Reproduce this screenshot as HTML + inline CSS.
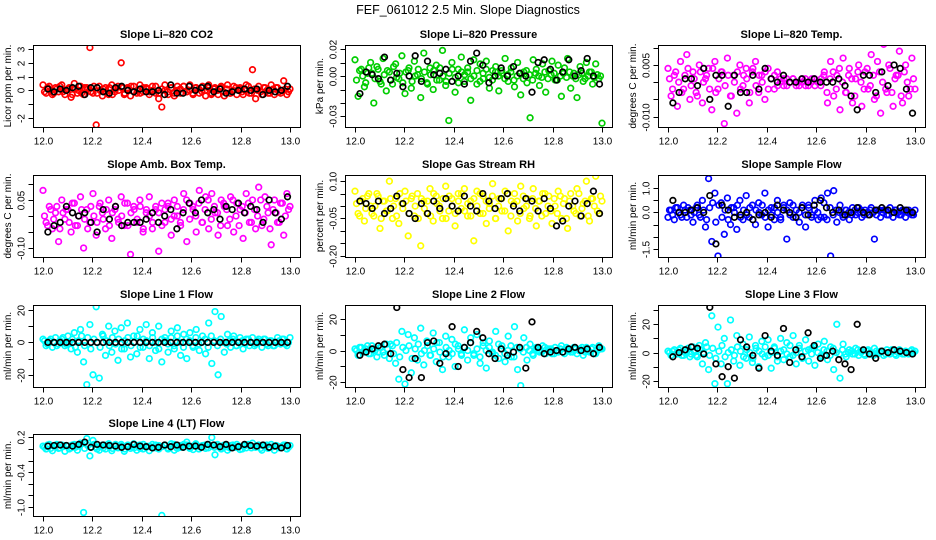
<!DOCTYPE html>
<html><head><meta charset="utf-8"><title>FEF_061012 2.5 Min. Slope Diagnostics</title>
<style>
html,body{margin:0;padding:0;background:#fff;}
svg{display:block;font-family:"Liberation Sans",Arial,sans-serif;}
</style></head>
<body>
<svg id="chart" width="936" height="540" viewBox="0 0 936 540" xmlns="http://www.w3.org/2000/svg">
<rect x="0" y="0" width="936" height="540" fill="#fff"/>
<text x="468" y="14" text-anchor="middle" font-size="12.5" fill="#000">FEF_061012  2.5 Min. Slope Diagnostics</text>
</svg>
<script>
// x-axis tick values (hours)
const xTicks = [12.0, 12.2, 12.4, 12.6, 12.8, 13.0];
const xTickLabels = ["12.0", "12.2", "12.4", "12.6", "12.8", "13.0"];

// Panel 1: CO2
const co2Vals = [0.4,-0.2,0.3,-0.3,0.2,-0.1,0.4,-0.3,0.1,-0.5,0.5,-0.2,0.3,-0.3,0.2,3.1,-0.2,-2.5,0.3,-0.4,0.2,-0.3,0.4,-0.1,0.3,2.0,-0.3,0.2,-0.4,0.3,-0.2,0.4,-0.1,0.2,-0.3,0.3,-0.2,-0.6,-1.2,0.4,-0.3,0.2,-0.4,0.3,-0.2,0.3,-0.1,0.4,-0.3,0.2,-0.2,0.3,-0.4,0.4,-0.2,0.2,-0.3,0.3,-0.4,0.4,-0.2,0.3,-0.3,0.2,-0.3,0.4,-0.2,1.5,-0.6,0.3,-0.3,0.2,-0.2,0.4,-0.3,0.2,-0.2,0.7,-0.3,0.1];
const co2Core = [-0.1,0.2,0.0,-0.2,0.1,0.3,-0.1,0.0,0.2,-0.3,0.1,0.0,-0.2,0.2,0.1,-0.1,0.3,-0.2,0.0,0.1,-0.1,0.2,-0.3,0.1,0.0,0.2,-0.2,0.1,0.3,-0.1,0.0,-0.2,0.2,0.1,-0.1,0.0,0.3,-0.2,0.1,0.0,-0.1,0.2,-0.2,0.0,0.1,0.3,-0.1,0.0,-0.2,0.2,0.1,-0.1,0.0,0.2,-0.3,0.1,0.0,0.2,-0.1,0.1,-0.2,0.0,0.2,0.1,-0.1,0.0,0.3,-0.2,0.1,0.0,-0.1,0.2,0.0,-0.2,0.1,0.2,-0.1,0.0,0.1,-0.1];
const co2Avg = [0.1,-0.1,0.1,0,0.2,0.3,-0.3,0.2,0.2,-0.1,-0.2,0.2,0.3,0,-0.1,0.1,-0.1,-0.1,0,-0.3,0.4,-0.2,-0.2,0.3,0,0.2,0.3,-0.1,0.1,-0.2,-0.1,0,0.1,0,0.1,-0.3,0,-0.1,0,0.3];
// Panel 2: Pressure
const presVals = [0.012,-0.015,0.005,-0.008,0.002,0.010,-0.020,0.007,-0.004,0.013,-0.011,0.003,-0.006,0.009,-0.002,0.015,-0.013,0.004,-0.009,0.011,0.001,-0.016,0.017,-0.005,0.006,-0.010,0.008,-0.003,0.019,-0.007,-0.033,0.010,-0.012,0.005,0.014,-0.004,0.003,-0.018,0.012,-0.006,0.009,-0.002,0.011,-0.009,0.004,0.007,-0.011,0.002,0.013,-0.004,0.006,-0.008,0.010,-0.014,0.003,-0.005,-0.031,0.012,0.005,-0.007,0.009,-0.012,0.004,0.011,-0.003,0.008,-0.015,0.006,0.013,-0.009,0.002,-0.016,0.007,-0.004,0.010,0.003,-0.006,0.009,-0.002,-0.035];
const presCore = [-0.003,0.004,0.000,-0.005,0.006,0.002,-0.002,0.005,-0.006,0.001,0.004,-0.003,0.007,-0.001,0.002,-0.005,0.003,0.006,-0.004,0.000,0.005,-0.002,0.003,-0.006,0.001,0.004,-0.003,0.006,0.000,-0.004,0.002,0.005,-0.001,-0.005,0.003,0.001,0.006,-0.002,0.000,0.004,-0.004,0.002,0.005,-0.001,-0.003,0.003,0.000,0.004,-0.002,0.001,0.003,-0.003,0.000,0.002,-0.002,0.004,0.001,-0.003,0.002,0.000,-0.001,0.003,-0.002,0.001,0.002,-0.003,0.000,0.002,-0.001,0.003,0.000,-0.002,0.001,0.002,-0.002,0.000,0.003,-0.001,0.001,0.000];
const presAvg = [-0.013,0.003,0.001,-0.002,0.014,-0.003,0.002,-0.008,0,0.015,-0.004,0.011,0.001,0.002,0.005,-0.004,0,-0.006,0.011,0.017,0.008,-0.005,0,0.006,0,0.007,0.002,0,-0.012,0.010,0.012,0.005,-0.003,0.003,0.012,0,0.004,0.013,0,-0.006];
// Panel 3: Li-820 Temp
const tempVals = [0.004,-0.004,0.002,-0.007,0.006,-0.002,0.008,-0.005,0.003,-0.003,0.005,-0.006,0.001,0.004,-0.008,0.006,-0.002,0.003,-0.012,0.007,-0.004,0.002,-0.009,0.005,-0.001,0.004,-0.006,0.003,0.006,-0.003,0.002,-0.005,0.004,0.001,-0.002,0.003,0.001,-0.001,0.001,0.000,0.001,-0.001,0.000,0.001,-0.001,0.000,0.001,-0.001,0.000,0.001,0.003,-0.006,0.006,-0.004,0.002,-0.008,0.007,-0.003,0.004,-0.006,0.001,0.005,-0.007,0.003,-0.002,0.008,-0.005,0.006,-0.009,0.011,-0.003,0.004,-0.007,0.002,0.009,-0.006,0.005,-0.004,0.007,-0.002];
const tempCore = [0.001,-0.002,0.003,0.000,-0.003,0.002,0.004,-0.001,0.001,-0.004,0.003,0.000,0.002,-0.002,0.004,-0.003,0.001,0.003,-0.001,0.002,-0.004,0.000,0.003,-0.002,0.002,0.001,-0.003,0.004,-0.001,0.002,0.000,0.003,-0.002,0.001,0.002,-0.001,0.000,0.001,-0.001,0.000,0.001,0.000,-0.001,0.000,0.001,-0.001,0.000,0.001,0.000,-0.001,0.002,-0.003,0.001,0.003,-0.002,0.004,0.000,-0.003,0.002,0.001,-0.004,0.003,0.000,-0.002,0.004,-0.001,0.002,-0.004,0.003,0.000,-0.002,0.005,-0.003,0.001,0.002,-0.004,0.003,0.000,-0.002,0.001];
const tempAvg = [-0.006,-0.003,0.001,0.001,-0.001,0.004,-0.005,0.002,0.002,-0.007,0.002,-0.003,-0.003,0.002,-0.002,0.004,0.001,0,0.002,0,0,0.001,0,0.001,0,0,0,0.001,-0.001,-0.004,-0.008,0.002,0.002,-0.003,0.003,-0.001,0.005,0.004,-0.002,-0.009];
// Panel 4: Amb. Box Temp
const ambVals = [0.08,-0.02,0.03,-0.04,0.01,-0.08,0.05,-0.01,0.02,-0.05,0.04,-0.03,0.06,-0.10,0.02,-0.02,0.07,-0.06,0.03,0.01,-0.04,0.05,-0.07,0.02,-0.01,0.06,-0.03,0.04,-0.12,0.03,-0.02,0.05,-0.05,0.01,0.06,-0.04,0.02,-0.11,0.04,-0.02,0.03,-0.06,0.05,0.00,-0.03,0.07,-0.08,0.04,0.02,-0.05,0.08,-0.02,0.06,-0.04,0.07,0.01,-0.06,0.05,0.03,-0.03,0.06,-0.05,0.04,0.02,-0.07,0.07,-0.02,0.05,-0.04,0.09,-0.03,0.06,0.01,-0.09,0.05,-0.02,0.04,-0.06,0.07,0.03];
const ambCore = [0.00,-0.03,0.02,-0.01,0.03,-0.04,0.01,0.02,-0.02,0.04,-0.03,0.00,0.02,-0.01,-0.04,0.03,0.00,-0.02,0.04,-0.01,0.02,-0.03,0.01,0.03,-0.02,0.00,0.04,-0.03,0.01,0.02,-0.01,0.03,-0.04,0.02,0.00,-0.02,0.03,0.01,-0.03,0.02,0.04,-0.01,0.00,0.03,-0.02,0.02,0.05,-0.01,0.03,0.00,0.04,-0.02,0.02,0.05,-0.01,0.03,0.01,-0.03,0.04,0.02,-0.01,0.05,0.00,-0.03,0.03,0.01,0.04,-0.02,0.02,0.00,0.05,-0.01,0.03,-0.04,0.02,0.01,-0.02,0.04,0.00,0.02];
const ambAvg = [-0.05,-0.03,-0.02,0.03,0.01,0.00,0.01,-0.02,-0.05,0.02,-0.01,0.03,-0.03,-0.02,-0.02,-0.02,-0.01,0.01,-0.02,0.00,0.02,-0.04,0.01,0.04,0.01,0.05,0.01,0.02,-0.01,0.03,0.02,0.04,0.01,0.03,0.02,-0.02,0.05,0.01,-0.01,0.06];
// Panel 5: Gas Stream RH
const rhVals = [0.06,-0.03,0.02,-0.06,0.04,0.00,-0.04,0.05,-0.09,0.02,-0.02,0.10,-0.05,0.03,-0.07,0.01,0.06,-0.12,0.03,-0.04,0.05,-0.16,0.02,-0.03,0.07,-0.06,0.04,0.00,-0.05,0.08,-0.02,0.03,-0.08,0.05,-0.01,0.07,-0.04,0.02,-0.14,0.06,-0.03,0.04,-0.07,0.01,0.09,-0.05,0.03,-0.02,0.06,-0.10,0.02,0.05,-0.06,0.08,-0.01,0.03,-0.04,0.07,-0.08,0.02,0.05,-0.03,0.04,-0.07,0.00,0.06,-0.05,0.03,-0.09,0.05,-0.02,0.07,-0.04,0.01,0.10,-0.06,0.03,0.12,-0.03,0.02];
const rhCore = [0.01,-0.04,0.03,-0.01,0.05,-0.03,0.00,0.04,-0.05,0.02,-0.02,0.03,0.00,-0.04,0.05,-0.01,0.02,-0.03,0.04,0.00,-0.05,0.03,-0.01,0.02,-0.04,0.05,0.01,-0.02,0.03,-0.05,0.04,0.00,-0.03,0.02,0.05,-0.02,0.01,-0.04,0.03,0.00,0.05,-0.03,0.02,-0.01,0.04,-0.05,0.00,0.03,-0.02,0.05,-0.04,0.01,0.02,-0.03,0.04,0.00,-0.05,0.03,-0.01,0.02,-0.04,0.05,0.00,-0.02,0.03,-0.03,0.04,0.01,-0.05,0.02,0.00,-0.03,0.05,-0.01,0.02,-0.04,0.03,0.00,-0.02,0.04];
const rhAvg = [0.02,0.01,-0.01,0.02,-0.03,-0.01,0.04,0.01,-0.03,-0.05,0.01,-0.03,0.02,-0.01,0.03,0.00,-0.02,0.04,0.00,-0.02,0.05,0.02,-0.01,0.03,0.05,0.00,-0.02,0.03,0.02,-0.02,0.03,-0.01,-0.08,-0.06,0.00,0.02,-0.04,0.01,0.06,-0.03];
// Panel 6: Sample Flow
const sfVals = [-0.2,0.1,-0.3,0.2,-0.1,0.3,-0.2,0.1,-0.4,0.2,-0.1,0.5,-0.6,1.4,-1.2,0.8,-1.8,0.4,-0.9,0.6,-0.5,0.2,-0.7,0.5,-0.3,0.7,-0.2,0.3,-0.5,0.4,-0.1,0.8,-0.6,0.2,-0.3,0.5,-0.2,0.3,-1.1,0.4,-0.2,0.1,-0.4,0.3,-0.6,0.2,-0.1,0.5,-0.3,0.6,-0.2,0.8,-1.8,0.9,-0.4,0.3,-0.2,0.1,-0.3,0.2,-0.1,0.2,-0.2,0.1,-0.1,0.2,-1.1,0.1,-0.2,0.1,-0.1,0.2,-0.2,0.1,-0.1,0.1,-0.2,0.1,-0.1,0.1];
const sfCore = [0.1,-0.1,0.2,0.0,-0.2,0.1,0.2,-0.1,0.0,0.3,-0.2,0.1,-0.3,0.2,0.4,-0.4,0.3,-0.2,0.1,-0.3,0.2,0.0,0.3,-0.2,0.1,-0.1,0.2,-0.3,0.1,0.0,0.3,-0.2,0.1,-0.1,0.2,0.0,-0.3,0.2,0.1,-0.1,0.3,-0.2,0.0,0.2,-0.1,0.3,-0.2,0.1,0.0,-0.2,0.4,-0.3,0.2,-0.1,0.1,0.0,-0.1,0.1,0.0,-0.1,0.1,0.0,0.1,-0.1,0.0,0.1,0.0,-0.1,0.1,0.0,0.1,-0.1,0.0,0.1,0.0,-0.1,0.1,0.0,0.0,-0.1];
const sfAvg = [0.5,0.0,0.0,0.1,0.2,0.0,0.7,-1.3,0.3,0.1,-0.2,-0.1,0.0,-0.3,-0.1,0.0,-0.2,0.3,0.1,0.0,-0.2,0.2,-0.1,0.3,0.5,0.2,0.0,0.1,-0.1,0.0,0.2,0.0,-0.1,0.1,0.2,0.1,0.0,0.2,0.1,0.0];
// Panel 7: Line 1 Flow
const l1Vals = [2,-2,1,-3,3,-1,2,-2,4,-4,6,-6,8,-12,-26,11,-20,22,-22,5,-8,10,-6,7,-11,9,-4,12,-9,4,-7,8,-3,11,-10,6,-5,10,-12,3,-6,7,-4,9,-8,5,-10,6,-3,8,-5,4,-7,12,-13,19,-20,16,-6,5,-3,4,-2,3,-4,2,-2,3,-1,2,-3,2,-2,1,-2,3,-1,2,-2,3];
const l1Core = [1,-1,2,0,-2,1,3,-1,0,2,-3,1,4,-2,3,-4,2,0,-3,4,1,-2,3,-1,2,-4,1,3,-2,0,4,-3,2,1,-2,3,0,-4,2,1,-1,3,-2,4,0,-3,2,1,-2,3,-1,0,2,-3,4,1,-2,2,0,-1,1,2,-2,0,1,-1,2,0,-2,1,0,2,-1,1,-2,0,1,2,-1,0];
const l1Avg = [0,0,0,0,0,0,0,0,0,0,0,0,0,0,0,0,0,0,0,0,0,0,0,0,0,0,0,0,0,0,0,0,0,0,0,0,0,0,0,0];
// Panel 8: Line 2 Flow
const l2Vals = [1,-3,2,-1,3,-2,1,-4,2,-1,4,-5,3,-8,-18,12,-21,10,-14,8,-6,14,-9,6,-3,11,-7,5,-12,9,-4,7,-10,3,-2,13,-6,8,-3,10,-8,5,-11,6,-2,12,-5,3,-7,9,-4,15,-12,-22,8,-6,4,-3,2,-1,3,-2,1,-2,2,-1,3,-2,1,-1,2,-2,1,-3,2,-1,2,-2,3,1];
const l2Core = [0,2,-1,1,-2,3,0,-1,2,-3,1,4,-2,5,-4,2,0,3,-5,1,4,-2,0,3,-3,1,5,-1,-4,2,0,-2,4,1,-3,2,0,5,-2,1,-4,3,0,2,-1,-3,4,1,-2,0,3,-4,2,1,-1,2,0,-2,1,0,-1,2,0,1,-2,0,1,-1,2,0,-1,1,0,2,-1,0,1,-2,0,1];
const l2Avg = [-3,-1,1,3,4,-2,27,-12,-17,-5,-17,5,6,-8,-2,15,-10,2,5,12,8,-2,-5,1,-3,-1,2,-11,18,2,-2,-1,0,-1,1,2,0,1,-2,2];
// Panel 9: Line 3 Flow
const l3Vals = [1,-2,2,-1,3,-2,1,-3,4,-2,5,-8,7,-12,26,-22,18,-8,10,-22,23,-6,12,-9,6,-4,11,-7,5,-10,8,-3,9,-11,4,-6,10,-5,7,-3,12,-8,5,-4,9,-6,3,-9,6,-2,8,-5,4,-12,20,-18,6,-3,2,-1,3,-2,1,-2,2,-1,3,-1,1,-2,2,-1,1,-2,2,-1,1,-1,2,1];
const l3Core = [0,1,-1,2,-2,0,3,-1,1,-3,2,0,4,-2,3,-4,1,5,-3,0,2,-2,4,1,-3,2,0,-4,3,1,-1,4,-2,0,3,-3,1,2,-1,5,-2,0,3,-4,1,2,-1,4,0,-3,2,1,-2,3,0,-1,2,-1,0,1,-1,2,0,-1,1,0,-2,1,0,1,-1,0,2,-1,0,1,-1,0,1,0];
const l3Avg = [-3,0,2,4,3,-1,32,-8,-17,-10,-18,9,4,-2,-11,12,1,-2,17,-7,2,-3,14,5,-4,-2,1,-5,-8,-12,20,2,-1,-4,1,0,2,1,0,-1];
// Panel 10: Line 4 (LT) Flow
const l4Vals = [0.05,0.00,0.08,-0.03,0.06,0.01,0.07,-0.04,0.05,0.02,0.08,-0.02,0.10,-1.10,0.18,-0.12,0.15,0.03,-0.02,0.07,0.00,0.09,-0.03,0.05,0.02,0.08,-0.04,0.06,0.01,0.09,-0.02,0.07,0.00,0.05,-0.03,0.08,0.02,0.06,-1.15,0.07,0.00,0.09,-0.02,0.05,0.03,0.08,0.12,0.01,-0.01,0.07,0.04,0.06,0.01,0.08,0.20,-0.10,0.05,0.00,0.07,-0.02,0.06,0.03,0.08,-0.01,0.05,0.02,-1.08,0.10,0.03,0.07,-0.02,0.06,0.01,0.08,-0.02,0.05,0.02,0.07,0.00,0.06];
const l4Core = [0.03,0.07,0.01,0.05,0.08,0.02,0.04,0.06,0.00,0.07,0.03,0.05,0.09,0.01,0.06,0.03,0.08,0.00,0.05,0.02,0.07,0.04,0.01,0.08,0.03,0.05,0.00,0.07,0.04,0.02,0.06,0.01,0.08,0.03,0.05,0.02,0.07,0.00,0.04,0.06,0.02,0.05,0.08,0.01,0.06,0.03,0.07,0.02,0.05,0.09,0.00,0.04,0.07,0.02,0.05,0.03,0.08,0.01,0.06,0.04,0.02,0.07,0.03,0.05,0.00,0.06,0.08,0.02,0.04,0.06,0.01,0.05,0.07,0.03,0.04,0.06,0.02,0.05,0.07,0.03];
const l4Avg = [0.05,0.06,0.07,0.06,0.05,0.08,0.12,0.03,0.08,0.07,0.06,0.05,0.03,0.04,0.08,0.05,0.04,0.02,0.03,0.07,0.04,0.07,0.03,0.05,0.05,0.03,0.08,0.07,0.04,0.08,0.02,0.04,0.08,0.06,0.05,0.07,0.03,0.05,0.02,0.06];

// y-axis tick values / labels per panel
const yTicks1 = [-2,-1,0,1,2,3];           const yLabs1 = ["-2","","0","1","2","3"];
const yTicks2 = [-0.03,-0.02,-0.01,0,0.01,0.02]; const yLabs2 = ["-0.03","","","0.00","","0.02"];
const yTicks3 = [-0.010,-0.005,0,0.005,0.010]; const yLabs3 = ["-0.010","","","0.005",""];
const yTicks4 = [-0.10,-0.05,0,0.05,0.10];  const yLabs4 = ["-0.10","","","0.05",""];
const yTicks5 = [-0.20,-0.15,-0.10,-0.05,0,0.05,0.10]; const yLabs5 = ["-0.20","","","-0.05","","","0.10"];
const yTicks6 = [-1.5,-1.0,-0.5,0,0.5,1.0]; const yLabs6 = ["-1.5","","","0.0","","1.0"];
const yTicks7 = [-20,-10,0,10,20];          const yLabs7 = ["-20","","0","","20"];
const yTicks8 = [-20,-10,0,10,20];          const yLabs8 = ["-20","","0","","20"];
const yTicks9 = [-20,-10,0,10,20,30];       const yLabs9 = ["-20","","0","","20",""];
const yTicks10 = [-1.0,-0.8,-0.6,-0.4,-0.2,0,0.2]; const yLabs10 = ["-1.0","","","-0.4","","","0.2"];

const panels = [
 {name:"co2", title:"Slope Li\u2013820 CO2", ylab:"Licor ppm per min.", color:"#ff0000", col:0,row:0, ymin:-2.65, ymax:3.29, vals:co2Vals, core:co2Core, avg:co2Avg, yt:yTicks1, yl:yLabs1},
 {name:"pressure", title:"Slope Li\u2013820 Pressure", ylab:"kPa per min.", color:"#00cd00", col:1,row:0, ymin:-0.0378, ymax:0.023, vals:presVals, core:presCore, avg:presAvg, yt:yTicks2, yl:yLabs2},
 {name:"li820-temp", title:"Slope Li\u2013820 Temp.", ylab:"degrees C per min.", color:"#ff00ff", col:2,row:0, ymin:-0.013, ymax:0.0108, vals:tempVals, core:tempCore, avg:tempAvg, yt:yTicks3, yl:yLabs3},
 {name:"amb-box-temp", title:"Slope Amb. Box Temp.", ylab:"degrees C per min.", color:"#ff00ff", col:0,row:1, ymin:-0.128, ymax:0.128, vals:ambVals, core:ambCore, avg:ambAvg, yt:yTicks4, yl:yLabs4},
 {name:"gas-stream-rh", title:"Slope Gas Stream RH", ylab:"percent per min.", color:"#ffff00", col:1,row:1, ymin:-0.205, ymax:0.125, vals:rhVals, core:rhCore, avg:rhAvg, yt:yTicks5, yl:yLabs5},
 {name:"sample-flow", title:"Slope Sample Flow", ylab:"ml/min per min.", color:"#0000ff", col:2,row:1, ymin:-1.84, ymax:1.55, vals:sfVals, core:sfCore, avg:sfAvg, yt:yTicks6, yl:yLabs6},
 {name:"line1-flow", title:"Slope Line 1 Flow", ylab:"ml/min per min.", color:"#00ffff", col:0,row:2, ymin:-27.5, ymax:23.1, vals:l1Vals, core:l1Core, avg:l1Avg, yt:yTicks7, yl:yLabs7},
 {name:"line2-flow", title:"Slope Line 2 Flow", ylab:"ml/min per min.", color:"#00ffff", col:1,row:2, ymin:-22.9, ymax:28.6, vals:l2Vals, core:l2Core, avg:l2Avg, yt:yTicks8, yl:yLabs8},
 {name:"line3-flow", title:"Slope Line 3 Flow", ylab:"ml/min per min.", color:"#00ffff", col:2,row:2, ymin:-24.3, ymax:33.6, vals:l3Vals, core:l3Core, avg:l3Avg, yt:yTicks9, yl:yLabs9},
 {name:"line4-flow", title:"Slope Line 4 (LT) Flow", ylab:"ml/min per min.", color:"#00ffff", col:0,row:3, ymin:-1.16, ymax:0.26, vals:l4Vals, core:l4Core, avg:l4Avg, yt:yTicks10, yl:yLabs10}
];

const NS = "http://www.w3.org/2000/svg";
const svg = document.getElementById("chart");
const colLeft = [33, 345, 658], rowTop = [45, 175, 305, 434];
const W = 267, H = 82;
function mk(tag, attrs, parent){ const e = document.createElementNS(NS, tag); for (const k in attrs) e.setAttribute(k, attrs[k]); (parent||svg).appendChild(e); return e; }

panels.forEach(p => {
  const L = colLeft[p.col], T = rowTop[p.row];
  const xScale = x => L + 10 + (x - 12) * (W - 20);
  const yScale = v => T + H - (v - p.ymin) / (p.ymax - p.ymin) * H;
  const g = mk("g", {});
  
  

  const t = mk("text", {x: L + W/2, y: T - 7, "text-anchor":"middle", "font-size":"11", "font-weight":"bold"}, g);
  t.textContent = p.title;
  
  

  const cid = "clip-" + p.name;
  const cp = mk("clipPath", {id: cid}, g);
  mk("rect", {x: L, y: T, width: W, height: H}, cp);

  const pts = mk("g", {"clip-path": "url(#" + cid + ")"}, g);
  
  
  const drawSeries = (arr, x0, x1) => {
    const n = arr.length;
    arr.forEach((v, i) => {
      const x = x0 + i * (x1 - x0) / (n - 1);
      const c = mk("circle", {cx: xScale(x).toFixed(1), cy: yScale(v).toFixed(1), r: 2.8, fill: "none", stroke: p.color, "stroke-width": 1.7}, pts);
      
      
    });
  };
  drawSeries(p.core, 12.006, 12.994);
  drawSeries(p.vals, 12.0, 13.0);

  const avgG = mk("g", {"clip-path": "url(#" + cid + ")"}, g);
  
  
  const m = p.avg.length;
  p.avg.forEach((v, i) => {
    const x = 12.02 + i * 0.97 / (m - 1);
    const c = mk("circle", {cx: xScale(x).toFixed(1), cy: yScale(v).toFixed(1), r: 2.8, fill: "none", stroke: "#000", "stroke-width": 1.7}, avgG);
    
    
  });

  const box = mk("rect", {x: L + 0.5, y: T + 0.5, width: W, height: H, fill: "none", stroke: "#000", "stroke-width": 1}, g);
  
  

  const xa = mk("g", {}, g);
  
  
  const yb = T + H + 0.5;
  mk("line", {x1: xScale(xTicks[0]), x2: xScale(xTicks[xTicks.length-1]), y1: yb, y2: yb, stroke: "#000"}, xa);
  xTicks.forEach((x, i) => {
    const px = Math.round(xScale(x)) + 0.5;
    mk("line", {x1: px, x2: px, y1: yb, y2: yb + 5, stroke: "#000"}, xa);
    const lt = mk("text", {x: px, y: yb + 17, "text-anchor": "middle", "font-size": "10"}, xa);
    lt.textContent = xTickLabels[i];
    
    
  });

  const ya = mk("g", {}, g);
  
  
  const xl = L + 0.5;
  mk("line", {x1: xl, x2: xl, y1: yScale(p.yt[0]), y2: yScale(p.yt[p.yt.length-1]), stroke: "#000"}, ya);
  p.yt.forEach((v, i) => {
    const py = Math.round(yScale(v)) + 0.5;
    mk("line", {x1: xl - 5, x2: xl, y1: py, y2: py, stroke: "#000"}, ya);
    if (p.yl[i]) {
      const lt = mk("text", {x: 0, y: 0, "text-anchor": "middle", "font-size": "10", transform: "translate(" + (xl - 9) + "," + py + ") rotate(-90)"}, ya);
      lt.textContent = p.yl[i];
      
      
    }
  });
  const yt = mk("text", {x: 0, y: 0, "text-anchor": "middle", "font-size": "10", transform: "translate(" + (L - 22) + "," + (T + H/2) + ") rotate(-90)"}, g);
  yt.textContent = p.ylab;
  
  
});
</script>
</body></html>
